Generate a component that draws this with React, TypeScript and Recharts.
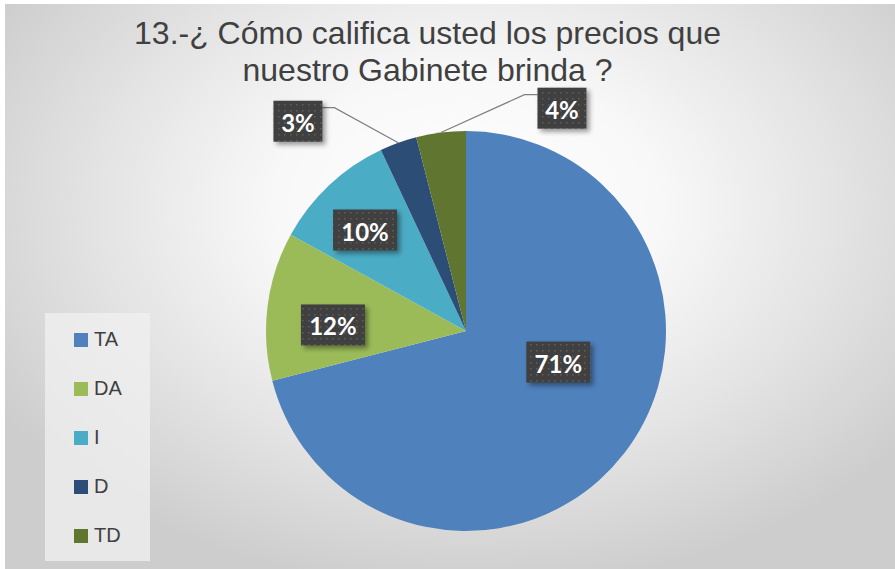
import React from "react";
import { PieChart, Pie, Cell, Legend } from "recharts";

const categories = ["TA", "DA", "I", "D", "TD"];
const values = [71, 12, 10, 3, 4];
const colors = ["#4F81BD", "#9BBB59", "#4BACC6", "#2C4D75", "#5F7530"];
const titleLines = ["13.-¿ Cómo califica usted los precios que", "nuestro Gabinete brinda ?"];

// label placement (radius factor, angle in degrees) per slice
const labelPlacement = [
  { r: 0.487, a: -18.6, leader: 0 },
  { r: 0.666, a: 177.4, leader: 0 },
  { r: 0.714, a: 135, leader: 0 },
  { r: 1.344, a: 128.7, leader: -1 },
  { r: 1.213, a: 66.7, leader: 1 },
];

const data = categories.map((name, i) => ({ name, value: values[i] }));

const RAD = Math.PI / 180;

const renderLabel = (props: any) => {
  const { cx, cy, outerRadius, midAngle, index, value } = props;
  const p = labelPlacement[index];
  const x = cx + outerRadius * p.r * Math.cos(p.a * RAD);
  const y = cy - outerRadius * p.r * Math.sin(p.a * RAD);
  const text = `${value}%`;
  const w = 19 + 15 * text.length;
  const h = 41;
  const left = x - w / 2;
  const top = y - h / 2;
  let line = null;
  if (p.leader !== 0) {
    const sx = cx + outerRadius * Math.cos(midAngle * RAD);
    const sy = cy - outerRadius * Math.sin(midAngle * RAD);
    const ly = top + 7;
    const edgeX = p.leader < 0 ? left + w : left;
    const elbowX = p.leader < 0 ? edgeX + 12 : edgeX - 13;
    line = (
      <polyline
        points={`${sx},${sy} ${elbowX},${ly} ${edgeX},${ly}`}
        fill="none"
        stroke="#7f7f7f"
        strokeWidth={1.2}
      />
    );
  }
  return (
    <g key={`lbl-${index}`}>
      {line}
      <rect x={left} y={top} width={w} height={h} fill="url(#dots)" filter="url(#shadow)" />
      <text
        x={x}
        y={y + 1}
        textAnchor="middle"
        dominantBaseline="central"
        fill="#ffffff"
        fontFamily="Lato, 'Open Sans', sans-serif"
        fontWeight="bold"
        fontSize={24}
      >
        {text}
      </text>
    </g>
  );
};

const renderLegend = () => (
  <div
    style={{
      width: 105,
      height: 248,
      background: "rgba(240,240,240,0.75)",
      boxSizing: "border-box",
      paddingTop: 2,
    }}
  >
    {categories.map((c, i) => (
      <div
        key={c}
        style={{
          display: "flex",
          alignItems: "center",
          height: 49,
          paddingLeft: 29,
          fontFamily: "'Liberation Sans', Arial, sans-serif",
          fontSize: 20,
          color: "#404040",
        }}
      >
        <span style={{ display: "inline-block", width: 14, height: 14, background: colors[i], marginRight: 6 }} />
        <span>{c}</span>
      </div>
    ))}
  </div>
);

export default function App() {
  return (
    <div style={{ position: "absolute", left: 0, top: 0, width: 895, height: 569, background: "#ffffff", overflow: "hidden" }}>
      <div
        style={{
          position: "absolute",
          left: 5,
          top: 4,
          width: 890,
          height: 565,
          background:
            "radial-gradient(ellipse 62% 68% at 52% 36%, #ffffff 0%, #f8f8f8 35%, #e3e3e3 68%, #cdcdcd 100%)",
        }}
      />
      <div
        style={{
          position: "absolute",
          left: 0,
          top: 15,
          width: 855,
          textAlign: "center",
          fontFamily: "'Liberation Sans', Arial, sans-serif",
          fontSize: 32,
          lineHeight: "37px",
          color: "#404040",
        }}
      >
        {titleLines.map((t) => (
          <div key={t}>{t}</div>
        ))}
      </div>
      <div style={{ position: "absolute", left: 0, top: 0 }}>
        <PieChart width={895} height={569} margin={{ top: 0, right: 0, bottom: 0, left: 0 }} style={{ overflow: "visible" }}>
          <defs>
            <pattern id="dots" x="0" y="0" width="6" height="6" patternUnits="userSpaceOnUse">
              <rect x="0" y="0" width="6" height="6" fill="#3f3f3f" />
              <rect x="2" y="2" width="1.6" height="1.6" fill="#5c5c5c" />
            </pattern>
            <filter id="shadow" x="-20%" y="-20%" width="150%" height="150%">
              <feDropShadow dx="3" dy="3" stdDeviation="2.5" floodColor="#000" floodOpacity="0.4" />
            </filter>
          </defs>
          <Pie
            data={data}
            dataKey="value"
            nameKey="name"
            cx={466}
            cy={331}
            outerRadius={200}
            startAngle={90}
            endAngle={-270}
            stroke="none"
            label={renderLabel}
            labelLine={false}
            isAnimationActive={false}
          >
            {data.map((d, i) => (
              <Cell key={d.name} fill={colors[i]} />
            ))}
          </Pie>
          <Legend
            content={renderLegend}
            wrapperStyle={{ position: "absolute", left: 45, top: 313, width: 105, height: 248 }}
          />
        </PieChart>
      </div>
    </div>
  );
}
